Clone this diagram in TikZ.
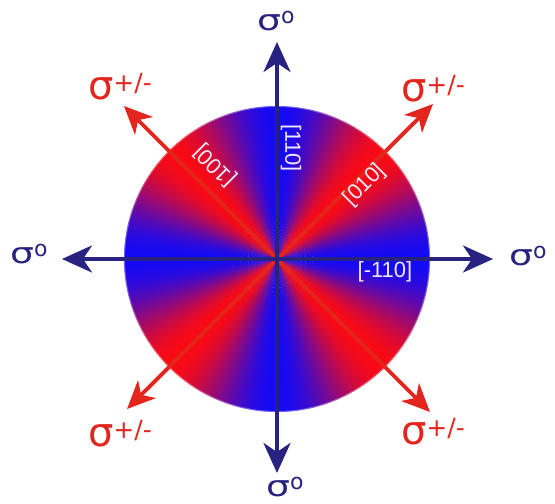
\documentclass[tikz,border=0pt]{standalone}
\usepackage{fontspec}
\setmainfont{Liberation Sans}
\newfontfamily\sigfont{DejaVu Sans}
\usetikzlibrary{arrows.meta}
\definecolor{navy}{RGB}{40,34,128}
\definecolor{arrred}{RGB}{226,38,30}
\definecolor{gblue}{RGB}{20,10,245}
\definecolor{gred}{RGB}{250,10,20}
\definecolor{lbl}{RGB}{240,232,250}
\newcommand\sigzero{\sigfont\scalebox{1.3}[1]{\fontsize{29}{29}\selectfont σ}\raisebox{7pt}{\fontsize{22}{22}\selectfont o}}
\newcommand\sigpm{\sigfont{\fontsize{40}{40}\selectfont σ}\raisebox{8pt}{\fontsize{25}{25}\selectfont +/-}}
\tikzset{
  navyarrow/.style={draw=navy, line width=3.8pt,
    {Stealth[length=30pt,width=27pt,inset=9pt]}-{Stealth[length=30pt,width=27pt,inset=9pt]}},
  redarrow/.style={draw=arrred, line width=3.8pt,
    {Stealth[length=28pt,width=25pt,inset=8pt]}-{Stealth[length=28pt,width=25pt,inset=8pt]}},
  navylabel/.style={text=navy, inner sep=0pt},
  redlabel/.style={text=arrred, inner sep=0pt},
  axlabel/.style={text=lbl, inner sep=0pt, font=\fontsize{22}{22}\selectfont},
}
\begin{document}
\begin{tikzpicture}[x=1pt,y=1pt]
\useasboundingbox (-277,-245) rectangle (278,259);
% gradient disc
\begin{scope}
  \clip (0,0) circle (153);
  \foreach \a in {0,1,...,359}{
    \pgfmathsetmacro\f{100*(sin(2*(\a+0.5)))^2}
    \fill[gred!\f!gblue] (0,0) -- (\a-0.3:160) arc (\a-0.3:\a+1.3:160) -- cycle;
  }
\end{scope}
\draw[white, opacity=0.35, line width=2pt] (0,0) circle (153);
% coordinates
\coordinate (c) at (0,0);
\coordinate (top) at (0,217);
\coordinate (bot) at (0,-214);
\coordinate (lft) at (-215,0);
\coordinate (rgt) at (216,0);
\coordinate (ul) at (-153,153);
\coordinate (ur) at (156,155);
\coordinate (ll) at (-150,-150);
\coordinate (lr) at (153,-153);
% arrows
\draw[redarrow] (ll) -- (ur);
\draw[redarrow] (lr) -- (ul);
\draw[navyarrow] (bot) -- (top);
\draw[navyarrow] (lft) -- (rgt);
% labels
\node[navylabel] (stop) at (-1,238) {\sigzero};
\node[navylabel] (sbot) at (8,-228) {\sigzero};
\node[navylabel] (slft) at (-248,5) {\sigzero};
\node[navylabel] (srgt) at (251,3) {\sigzero};
\node[redlabel] (sul) at (-157,172) {\sigpm};
\node[redlabel] (sur) at (156,170) {\sigpm};
\node[redlabel] (sll) at (-157,-175) {\sigpm};
\node[redlabel] (slr) at (156,-173) {\sigpm};
% axis labels
\node[axlabel, rotate=-90] (a110) at (14,111) {[110]};
\node[axlabel, rotate=135] (a100) at (-62,94) {[100]};
\node[axlabel, rotate=45] (a010) at (88,74) {[010]};
\node[axlabel] (am110) at (108,-13) {[-110]};
\end{tikzpicture}
\end{document}
